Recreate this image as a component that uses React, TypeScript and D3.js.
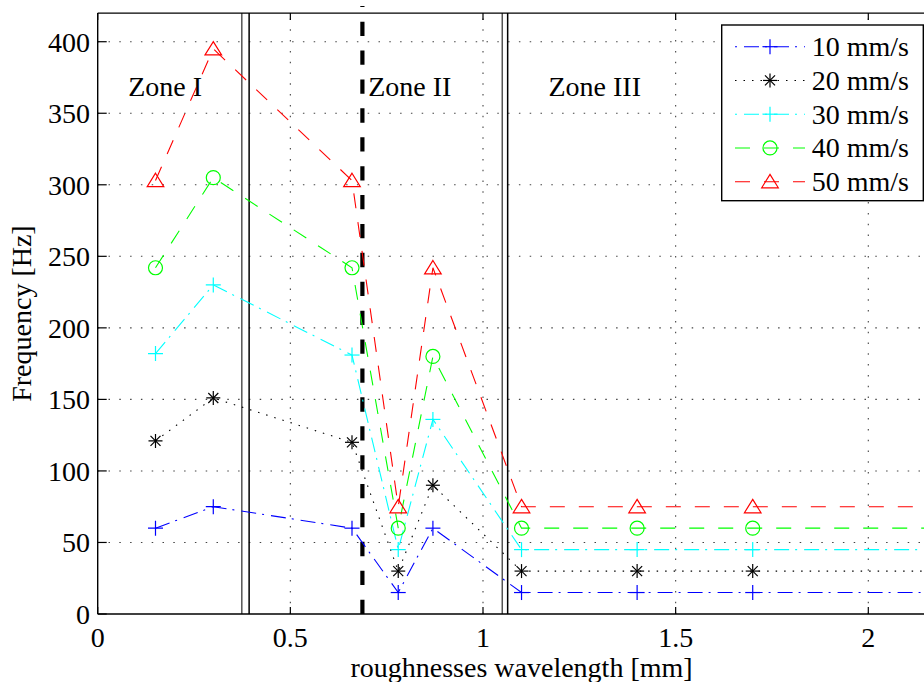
import React from 'react';
import * as d3 from 'd3';

// ---- data ----
const xValues = [0.15, 0.3, 0.66, 0.78, 0.87, 1.1, 1.4, 1.7, 2.2];
const speed10 = [60, 75, 60, 15, 60, 15, 15, 15, 15];
const speed20 = [121, 151, 120, 30, 90, 30, 30, 30, 30];
const speed30 = [182, 230, 181, 45, 136, 45, 45, 45, 45];
const speed40 = [242, 305, 242, 60, 180, 60, 60, 60, 60];
const speed50 = [303, 395, 303, 75, 242, 75, 75, 75, 75];
const seriesLabels = ['10 mm/s', '20 mm/s', '30 mm/s', '40 mm/s', '50 mm/s'];
const xTicks = [0, 0.5, 1, 1.5, 2];
const xTickLabels = ['0', '0.5', '1', '1.5', '2'];
const yTicks = [0, 50, 100, 150, 200, 250, 300, 350, 400];
const zoneLabels = ['Zone I', 'Zone II', 'Zone III'];
const zoneTextX = [0.079, 0.702, 1.17];
const zoneTextY = 362;
const boundaryPairs = [[0.374, 0.393], [1.05, 1.064]];
const dividerX = 0.687;
const dividerTop = 425;

const xDomain = [0, 2.2];
const yDomain = [0, 420];

const W = 924;
const H = 682;
const left = 97.7;
const bottom = 614;
const top = 13.1;
const pxPerUnit = 385.3;

const FONT = "'Liberation Serif', 'Times New Roman', Times, 'DejaVu Serif', serif";
const textStyle: React.CSSProperties = { fontFamily: FONT, fontSize: 28 };

type MarkerKind = 'plus' | 'star' | 'circle' | 'triangle';

const styles: { color: string; dash: string; marker: MarkerKind }[] = [
  { color: '#0000ff', dash: '15,6,2,7', marker: 'plus' },
  { color: '#000000', dash: '1.5,7', marker: 'star' },
  { color: '#00ffff', dash: '15,6,2,7', marker: 'plus' },
  { color: '#00ff00', dash: '15,14', marker: 'circle' },
  { color: '#ff0000', dash: '15,14', marker: 'triangle' },
];

function Marker({ kind, x, y, color }: { kind: MarkerKind; x: number; y: number; color: string }) {
  const sw = 1.2;
  if (kind === 'plus') {
    const s = 7.5;
    return (
      <g stroke={color} strokeWidth={sw} fill="none">
        <line x1={x - s} y1={y} x2={x + s} y2={y} />
        <line x1={x} y1={y - s} x2={x} y2={y + s} />
      </g>
    );
  }
  if (kind === 'star') {
    const s = 7;
    const d = 5;
    return (
      <g stroke={color} strokeWidth={sw} fill="none">
        <line x1={x - s} y1={y} x2={x + s} y2={y} />
        <line x1={x} y1={y - s} x2={x} y2={y + s} />
        <line x1={x - d} y1={y - d} x2={x + d} y2={y + d} />
        <line x1={x - d} y1={y + d} x2={x + d} y2={y - d} />
      </g>
    );
  }
  if (kind === 'circle') {
    return <circle cx={x} cy={y} r={7} stroke={color} strokeWidth={sw} fill="none" />;
  }
  const hw = 8.3;
  return (
    <path
      d={`M${x},${y - 7.3}L${x + hw},${y + 6.1}L${x - hw},${y + 6.1}Z`}
      stroke={color}
      strokeWidth={sw}
      fill="none"
    />
  );
}

export default function App() {
  const allSeries = [speed10, speed20, speed30, speed40, speed50];
  const x = d3.scaleLinear().domain(xDomain).range([left, left + (xDomain[1] - xDomain[0]) * pxPerUnit]);
  const y = d3.scaleLinear().domain(yDomain).range([bottom, top]);
  const right = x(xDomain[1]);

  const line = d3
    .line<number>()
    .x((_, i) => x(xValues[i]))
    .y((d) => y(d));

  const gridDash = '1.5,9.3';

  const legX0 = 721.7;
  const legY0 = 25;
  const legW = 201.6;
  const legH = 175.7;

  return (
    <svg
      width={W}
      height={H}
      style={{ position: 'absolute', left: 0, top: 0, background: '#fff' }}
    >
      <defs>
        <clipPath id="plotClip">
          <rect x={left} y={top} width={right - left} height={bottom - top} />
        </clipPath>
      </defs>
      <rect x={0} y={0} width={W} height={H} fill="#fff" />

      {/* grid */}
      <g stroke="#444" strokeWidth={1.1} strokeDasharray={gridDash} fill="none">
        {yTicks
          .filter((t) => t > 0)
          .map((t) => (
            <line key={'gy' + t} x1={left} x2={right} y1={y(t)} y2={y(t)} />
          ))}
        {xTicks
          .filter((t) => t > 0)
          .map((t) => (
            <line key={'gx' + t} x1={x(t)} x2={x(t)} y1={bottom} y2={top} />
          ))}
      </g>

      {/* zone boundaries */}
      <g clipPath="url(#plotClip)">
        {boundaryPairs.map((p, i) => (
          <g key={'bp' + i}>
            <line x1={x(p[0])} x2={x(p[0])} y1={y(yDomain[0])} y2={y(yDomain[1])} stroke="#555" strokeWidth={1.5} />
            <line x1={x(p[1])} x2={x(p[1])} y1={y(yDomain[0])} y2={y(yDomain[1])} stroke="#000" strokeWidth={1.5} />
          </g>
        ))}
      </g>
      <line
        x1={x(dividerX)}
        x2={x(dividerX)}
        y1={y(dividerTop)}
        y2={y(0)}
        stroke="#000"
        strokeWidth={4.2}
        strokeDasharray="14.3,14.6"
        strokeDashoffset={13.2}
      />

      {/* series */}
      <g clipPath="url(#plotClip)">
        {allSeries.map((s, i) => (
          <path
            key={'s' + i}
            d={line(s) || ''}
            fill="none"
            stroke={styles[i].color}
            strokeWidth={1.1}
            strokeDasharray={styles[i].dash}
          />
        ))}
        {allSeries.map((s, i) =>
          s.map((v, j) => (
            <Marker key={'m' + i + '-' + j} kind={styles[i].marker} x={x(xValues[j])} y={y(v)} color={styles[i].color} />
          ))
        )}
      </g>

      {/* zone labels */}
      {zoneLabels.map((z, i) => (
        <text key={z} x={x(zoneTextX[i])} y={y(zoneTextY)} style={textStyle} fill="#000">
          {z}
        </text>
      ))}

      {/* axes frame */}
      <g stroke="#000" strokeWidth={1.4} fill="none">
        <line x1={left} x2={right} y1={bottom} y2={bottom} />
        <line x1={left} x2={right} y1={top} y2={top} />
        <line x1={left} x2={left} y1={top} y2={bottom} />
      </g>
      {/* ticks */}
      <g stroke="#000" strokeWidth={1.2}>
        {yTicks.map((t) => (
          <line key={'ty' + t} x1={left} x2={left + 9} y1={y(t)} y2={y(t)} />
        ))}
        {xTicks.map((t) => (
          <g key={'tx' + t}>
            <line x1={x(t)} x2={x(t)} y1={bottom} y2={bottom - 7} />
            <line x1={x(t)} x2={x(t)} y1={top} y2={top + 7} />
          </g>
        ))}
      </g>

      {/* tick labels */}
      {yTicks.map((t) => (
        <text key={'ly' + t} x={90} y={y(t) + 10} style={textStyle} textAnchor="end" fill="#000">
          {t}
        </text>
      ))}
      {xTicks.map((t, i) => (
        <text key={'lx' + t} x={x(t)} y={647} style={textStyle} textAnchor="middle" fill="#000">
          {xTickLabels[i]}
        </text>
      ))}

      {/* axis labels */}
      <text x={(left + right) / 2} y={677} style={textStyle} textAnchor="middle" fill="#000">
        roughnesses wavelength [mm]
      </text>
      <text
        transform={`translate(31,${(top + bottom) / 2}) rotate(-90)`}
        style={textStyle}
        textAnchor="middle"
        fill="#000"
      >
        Frequency [Hz]
      </text>

      {/* legend */}
      <rect x={legX0} y={legY0} width={legW} height={legH} fill="#fff" stroke="#000" strokeWidth={1.4} />
      {seriesLabels.map((lab, i) => {
        const cy = 46.7 + i * 33.75;
        const st = styles[i];
        const off = st.marker === 'plus' ? 21 : 0;
        return (
          <g key={lab}>
            <line
              x1={735}
              x2={805}
              y1={cy}
              y2={cy}
              stroke={st.color}
              strokeWidth={1.1}
              strokeDasharray={st.dash}
              strokeDashoffset={off}
            />
            <Marker kind={st.marker} x={770} y={cy} color={st.color} />
            <text x={811.7} y={cy + 9.5} style={textStyle} fill="#000">
              {lab}
            </text>
          </g>
        );
      })}
    </svg>
  );
}
